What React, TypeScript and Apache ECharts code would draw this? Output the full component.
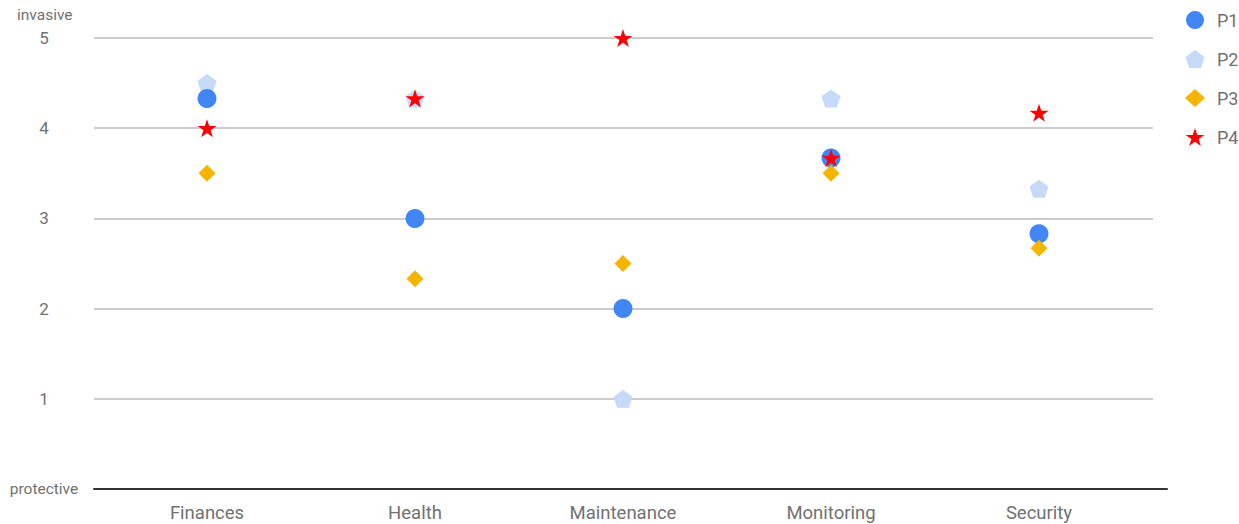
import React, { useEffect, useRef } from "react";
import * as echarts from "echarts";

const categories = ["Finances", "Health", "Maintenance", "Monitoring", "Security"];
const seriesNames = ["P1", "P2", "P3", "P4"];
const p1 = [4.33, 3, 2, 3.67, 2.83];
const p2 = [4.5, 4.33, 1, 4.33, 3.33];
const p3 = [3.5, 2.33, 2.5, 3.5, 2.67];
const p4 = [4, 4.33, 5, 3.67, 4.17];
const yTicks = [0, 1, 2, 3, 4, 5];

const STAR =
  "path://M50 0 L61.23 34.55 L97.55 34.55 L68.17 55.9 L79.39 90.45 L50 69.1 L20.61 90.45 L31.83 55.9 L2.45 34.55 L38.77 34.55 Z";
const PENTAGON = "path://M50 0 L97.55 34.55 L79.39 90.45 L20.61 90.45 L2.45 34.55 Z";

const FONT = "Roboto";
const GRAY = "#717171";

export default function App() {
  const ref = useRef<HTMLDivElement>(null);
  useEffect(() => {
    if (!ref.current) return;
    const chart = echarts.init(ref.current, undefined, { renderer: "svg" });
    const mk = (name: string, data: number[], symbol: string, size: any, color: string, z: number) => ({
      name,
      type: "scatter",
      xAxisIndex: 0,
      yAxisIndex: 0,
      data,
      symbol,
      symbolSize: size,
      itemStyle: { color, opacity: 1 },
      z,
    });
    chart.setOption({
      animation: false,
      textStyle: { fontFamily: FONT },
      grid: [
        { left: 103, right: 96, top: 38, bottom: 35 },
        { left: 94, right: 86, top: 38, bottom: 35 },
        { left: 94, right: 72, top: 38, bottom: 35 },
      ],
      xAxis: [
        {
          type: "category",
          gridIndex: 0,
          data: categories,
          axisLine: { show: false },
          axisTick: { show: false },
          axisLabel: { color: GRAY, fontSize: 18.5, margin: 14, fontFamily: FONT },
          splitLine: { show: false },
        },
        { type: "value", gridIndex: 1, show: false, min: 0, max: 1 },
        {
          type: "value",
          gridIndex: 2,
          min: 0,
          max: 1,
          axisLine: { show: true, lineStyle: { color: "#333333", width: 2 } },
          axisTick: { show: false },
          axisLabel: { show: false },
          splitLine: { show: false },
        },
      ],
      yAxis: [
        { type: "value", gridIndex: 0, min: 0, max: 5, interval: 1, show: false },
        {
          type: "value",
          gridIndex: 1,
          min: yTicks[0],
          max: yTicks[yTicks.length - 1],
          interval: 1,
          axisLine: { show: false },
          axisTick: { show: false },
          splitLine: { show: true, lineStyle: { color: "#cccccc", width: 2 } },
          axisLabel: {
            align: "center",
            margin: 50,
            color: GRAY,
            fontSize: 17,
            fontFamily: FONT,
            formatter: (v: number) => (v === 0 ? "{s|protective}" : String(v)),
            rich: { s: { fontSize: 15.5, color: GRAY, fontFamily: FONT } },
          },
        },
        { type: "value", gridIndex: 2, min: 0, max: 5, show: false },
      ],
      legend: {
        orient: "vertical",
        left: 1185,
        top: 11,
        padding: 0,
        itemWidth: 20,
        itemHeight: 18,
        itemGap: 21,
        data: seriesNames,
        textStyle: { color: GRAY, fontSize: 18, fontFamily: FONT, padding: [0, 0, 0, 7] },
      },
      graphic: [
        {
          type: "text",
          left: 17,
          top: 7,
          style: { text: "invasive", fill: GRAY, fontSize: 15.5, fontFamily: FONT },
        },
      ],
      series: [
        mk("P2", p2, PENTAGON, [19, 18], "#c6d9f7", 2),
        mk("P1", p1, "circle", 19, "#4285f4", 3),
        mk("P3", p3, "diamond", 17, "#f4b400", 4),
        mk("P4", p4, STAR, [19, 18], "#ff0000", 5),
      ],
    });
    return () => chart.dispose();
  }, []);
  return <div ref={ref} style={{ width: 1239, height: 524, position: "absolute", left: 0, top: 0 }} />;
}
